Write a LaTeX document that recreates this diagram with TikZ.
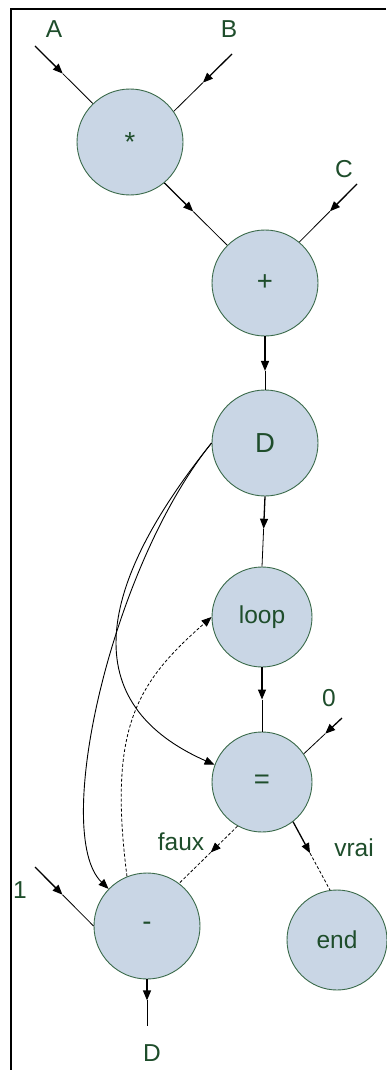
\documentclass[tikz,border=0pt]{standalone}
\usepackage{fontspec}
\setmainfont{Liberation Sans}
\usetikzlibrary{calc,arrows.meta}
\definecolor{opfill}{HTML}{C9D6E5}
\definecolor{opline}{HTML}{3A6A4A}
\definecolor{optext}{HTML}{1E4D2B}

\tikzset{
  op/.style={circle, draw=opline, fill=opfill, line width=0.9pt, text=optext,
             minimum size=106pt, inner sep=0pt, font=\fontsize{24.5}{28}\selectfont},
  opsmall/.style={op, minimum size=100pt},
  opbig/.style={op, font=\fontsize{27.5}{30}\selectfont},
  lbl/.style={text=optext, inner sep=0pt, font=\fontsize{24.5}{28}\selectfont},
  feed/.style={line width=1.3pt, -{Triangle[length=10pt,width=8pt]}},
  tail/.style={line width=0.8pt},
  dashline/.style={dash pattern=on 3pt off 2pt},
}

% arrow head half way along a straight connector
\newcommand\flowline[5]{%
  \draw[feed,#1] (#3) -- ($(#3)!#5!(#4)$);
  \draw[tail,#2] ($(#3)!#5!(#4)$) -- (#4);}

\begin{document}
\begin{tikzpicture}[x=1pt, y=-1pt]
  \useasboundingbox (0,0) rectangle (386,1070);
  \draw[line width=2.6pt] (386,9) -- (11,9) -- (11,1070);

  % operators
  \node[opbig] (mul) at (130,142) {*};
  \node[opbig] (plus) at (265,283) {+};
  \node[opbig] (dop) at (265,443) {D};
  \node[opsmall] (loop) at (262,617) {loop};
  \node[opsmall, font=\fontsize{27.5}{30}\selectfont] (eq) at (262,782) {=};
  \node[opbig] (minus) at (147,926) {-};
  \node[opsmall] (stop) at (337,940) {end};

  % inputs and labels
  \node[lbl] (lblA) at (54,29) {A};
  \node[lbl] (lblB) at (229,29) {B};
  \node[lbl] (lblC) at (344,169) {C};
  \node[lbl] (lblzero) at (329,698) {0};
  \node[lbl] (lblone) at (20,890) {1};
  \node[lbl] (lblD) at (152,1053) {D};
  \node[lbl] (lblfaux) at (181,842) {faux};
  \node[lbl] (lblvrai) at (354,848) {vrai};
  \coordinate (inA) at (35,46);
  \coordinate (inB) at (232,54);
  \coordinate (inC) at (357,184);
  \coordinate (inzero) at (342,718);
  \coordinate (inone) at (35,867);
  \coordinate (outD) at (147,1026);

  % straight connectors
  \flowline{}{}{inA}{mul.134}{.48}
  \flowline{}{}{inB}{mul.35}{.5}
  \flowline{}{}{mul.-50}{plus.135}{.46}
  \flowline{}{}{inC}{plus.50}{.47}
  \flowline{}{}{plus.south}{dop.north}{.65}
  \flowline{}{}{dop.south}{loop.north}{.46}
  \flowline{}{}{loop.south}{eq.north}{.5}
  \flowline{}{}{inzero}{eq.34}{.44}
  \flowline{dashline, line width=0.8pt}{dashline}{eq.-119}{minus.53}{.46}
  \flowline{}{dashline}{eq.-52}{stop.98}{.46}
  \flowline{}{}{inone}{minus.west}{.47}
  \flowline{}{}{minus.south}{outD}{.45}

  % curved connectors
  \draw[feed, line width=0.9pt] (dop.west) .. controls +(-107,133) and +(-147,-65) .. (eq.160);
  \draw[feed, line width=0.9pt] (dop.west) .. controls +(-101,125) and +(-57,-55) .. (minus.136);
  \draw[feed, dashline, line width=0.8pt] (minus.112) .. controls +(-19,-149) and +(-75,66) .. (loop.west);
\end{tikzpicture}
\end{document}
